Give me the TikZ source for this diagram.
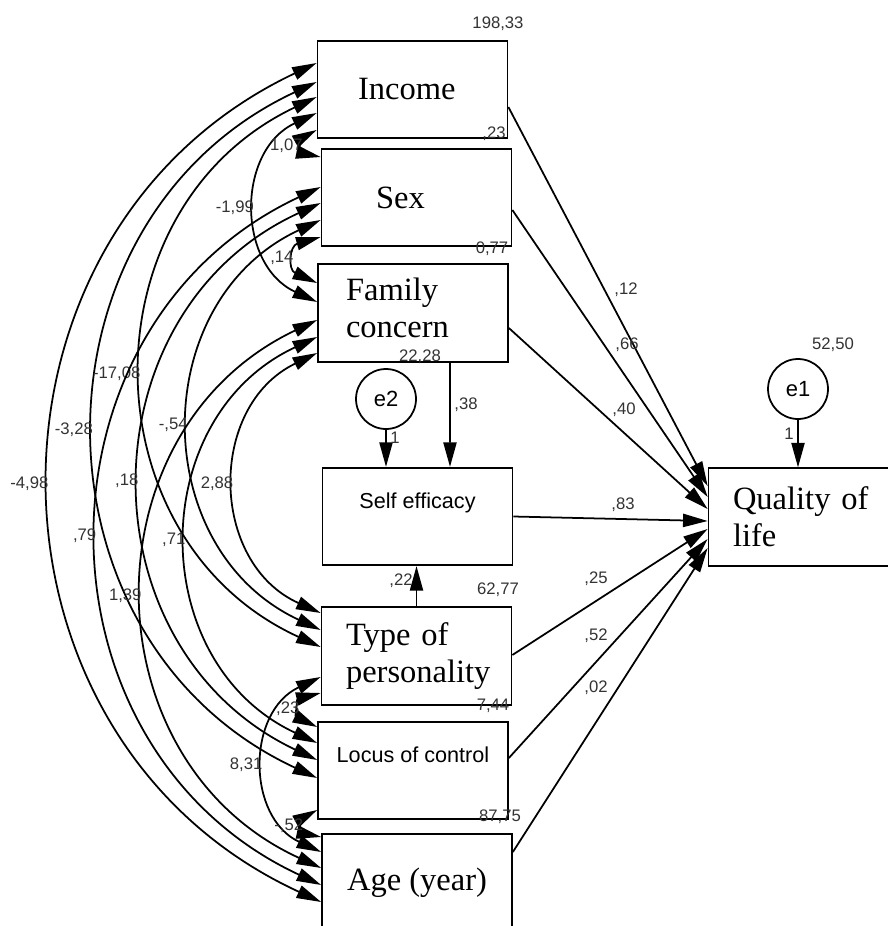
\documentclass[tikz,border=0pt]{standalone}
\usepackage{fontspec}
\setmainfont{Liberation Serif}
\newfontfamily\amosfont{Liberation Sans}
\usetikzlibrary{arrows.meta,calc}
\tikzset{
  amos/.tip={Triangle[length=14pt,width=7.5pt]},
  var/.style={draw, line width=1pt, minimum width=3.8cm, minimum height=1.95cm,
    inner sep=0pt, font=\fontsize{18.5}{21}\selectfont},
  varl/.style={var, align=left, text width=#1},
  vars/.style={var, font=\amosfont\fontsize{12.3}{14}\selectfont,
    text height=9pt, text depth=18pt},
  err/.style={circle, draw, line width=1pt, minimum size=1.2cm, inner sep=0pt,
    font=\amosfont\fontsize{12.5}{14}\selectfont},
  num/.style={font=\amosfont\fontsize{9.5}{11}\selectfont, text=black!80, inner sep=1pt},
  reg/.style={-amos, line width=1pt},
  cov/.style={amos-amos, line width=1pt},
}
\begin{document}
\begin{tikzpicture}[x=0.02cm, y=-0.02cm]
\useasboundingbox (0,0) rectangle (887,926);
% observed variables
\node[varl=2.18cm] (income) at (412.5,89.5) {Income};
\node[varl=1.62cm] (sex) at (416.5,197.5) {Sex};
\node[varl=2.68cm, text depth=26.5pt] (family) at (413,313) {Family\\concern};
\node[vars] (self) at (417.5,516.5) {Self efficacy};
\node[varl=2.82cm] (type) at (416.5,656) {Type of\\personality};
\node[vars] (locus) at (413,770.5) {Locus of control};
\node[var] (age) at (417,883) {Age (year)};
\node[varl=2.82cm] (quality) at (803.5,517) {Quality of\\life};
% errors
\node[err] (e1) at (798,389) {e1};
\node[err] (e2) at (386,399) {e2};

% regression paths
\foreach \v/\dv/\dq in {income/17.5/-31, sex/12.5/-20, family/15/-8, self/0/4,
    type/-1/12, locus/-12.5/22, age/-31/31}
  \draw[reg] ($(\v.east)+(0,\dv)$) -- ($(quality.west)+(0,\dq)$);
\draw[reg] ([xshift=0.74cm]family.south) -- ([xshift=0.65cm]self.north);
\draw[reg] (type.north) -- (type.north |- self.south);
\draw[reg] (e2) -- (e2 |- self.north);
\draw[reg] (e1) -- (e1 |- quality.north);

% covariances
\foreach \a/\da/\b/\db/\c in {income/-26.5/age/19/{-4,98}, income/-7.5/locus/7.5/{-3,28},
    income/7.5/type/-9/{-17,08}, income/23.5/family/-11/{-1,99},
    sex/-10.5/age/2/{,79}, sex/5.5/locus/-10.5/{,18}, sex/22.5/type/-26/{-,54},
    family/7/age/-15/{1,39}, family/24/locus/-27.5/{,71}, family/40/type/-43/{2,88},
    type/21/age/-31/{8,31}}
  \draw[cov] ($(\a.west)+(0,\da)$) to[bend right=65, looseness=1.2]
    node[midway, left, num] (c-\a-\b) {\c} ($(\b.west)+(0,\db)$);
\foreach \a/\da/\b/\db/\c in {income/40.5/sex/-40.5/{1,07}, sex/39.5/family/-30/{,14},
    type/37/locus/-43.5/{,23}, locus/39.5/age/-46/{-,52}}
  \draw[cov] ($(\a.west)+(0,\da)$) to[bend right=70, looseness=1.8]
    node[midway, left, num] (c-\a-\b) {\c} ($(\b.west)+(0,\db)$);

% variances
\node[num] (vincome) at (498,24) {198,33};
\node[num] (vsex) at (494,134) {,23};
\node[num] (vfamily) at (492,249) {0,77};
\node[num] (ve2) at (420,357) {22,28};
\node[num] (vtype) at (498,590) {62,77};
\node[num] (vlocus) at (493,706) {7,44};
\node[num] (vage) at (500,817) {87,75};
\node[num] (ve1) at (833,345) {52,50};

% weights
\node[num] (wincome) at (626,290) {,12};
\node[num] (wsex) at (627,345) {,66};
\node[num] (wfamily) at (624,410) {,40};
\node[num] (wself) at (623,505) {,83};
\node[num] (wtype) at (596,579) {,25};
\node[num] (wlocus) at (596,636) {,52};
\node[num] (wage) at (596,688) {,02};
\node[num] (wfs) at (466,405) {,38};
\node[num] (wts) at (401,581) {,22};
\node[num] (we2) at (395,438) {1};
\node[num] (we1) at (789,434) {1};
\end{tikzpicture}
\end{document}
